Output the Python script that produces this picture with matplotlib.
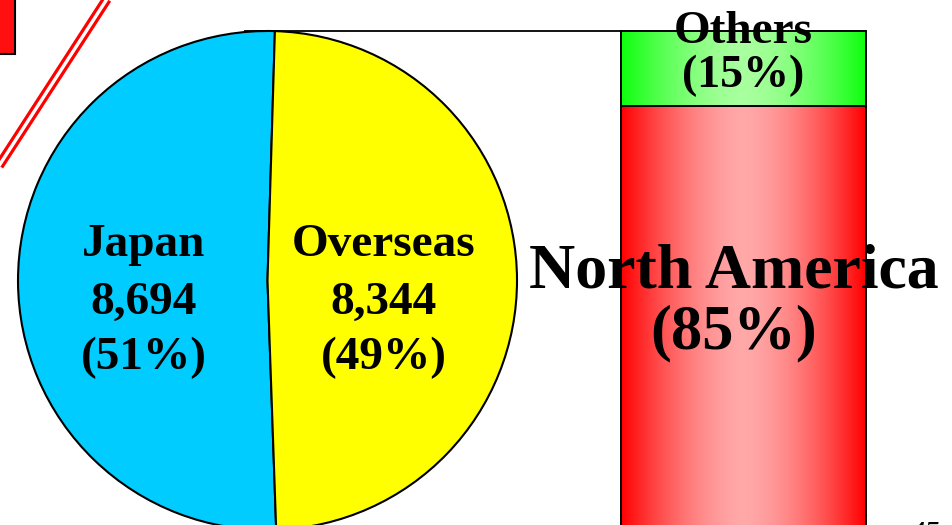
import numpy as np
import matplotlib.pyplot as plt
from matplotlib.patches import Rectangle

# sales split (units), and overseas breakdown (%)
regions = ["Japan", "Overseas"]
sales = [8694, 8344]
markets = ["North America", "Others"]
market_share = [85, 15]

W, H = 952, 525
plt.rcParams['font.family'] = ['Liberation Serif', 'DejaVu Serif']

fig = plt.figure(figsize=(W / 100, H / 100), dpi=100)
ax = fig.add_axes([0, 0, 1, 1])

def py(y):
    # pixel row (from top) -> data y
    return H - y

# ---- pie ----
cx, cy, r = 267.5, py(280.5), 249.5
wedges, _ = ax.pie(sales, colors=["#00CCFF", "#FFFF00"], startangle=88.3,
                   counterclock=True, center=(cx, cy), radius=r, frame=True,
                   wedgeprops=dict(edgecolor="black", linewidth=1.5))

pct = [round(100 * v / sum(sales)) for v in sales]
label_x = [143.5, 383.5]
for name, v, p, x in zip(regions, sales, pct, label_x):
    for txt, yb in zip([name, f"{v:,}", f"({p}%)"], [256, 314, 369]):
        ax.text(x, py(yb), txt, ha="center", va="baseline", fontsize=34,
                fontweight="bold", zorder=5)

# ---- stacked bar with gradient ----
bar_x, bar_w = 743.5, 245
top, bottom = py(31), py(528)
scale = (top - bottom) / sum(market_share)
heights = [s * scale for s in market_share]
bottoms = [bottom, bottom + heights[0]]
bars = ax.bar([bar_x, bar_x], heights, width=bar_w, bottom=bottoms,
              facecolor="none", edgecolor="black", linewidth=1.4, zorder=3)

t = np.linspace(-1, 1, 300)
w = 1 - np.abs(t) ** 1.6
edge_cols = [np.array([1.0, 0.0, 0.0]), np.array([0.05, 1.0, 0.05])]
mid_cols = [np.array([1.0, 0.66, 0.66]), np.array([0.66, 1.0, 0.62])]
for b, ec, mc in zip(bars, edge_cols, mid_cols):
    grad = ec[None, :] + (mc - ec)[None, :] * w[:, None]
    x0, y0 = b.get_x(), b.get_y()
    im = ax.imshow(grad[None, :, :], extent=[x0, x0 + b.get_width(), y0, y0 + b.get_height()],
                   aspect="auto", zorder=2, interpolation="bilinear")
    im.set_clip_path(b)

# connector from pie top to bar top
ax.plot([245, bar_x - bar_w / 2], [top, top], color="black", lw=1.3, zorder=4)

# bar labels
ax.text(734, py(288), markets[0], ha="center", va="baseline", fontsize=46,
        fontweight="bold", zorder=6)
ax.text(734, py(348), f"({market_share[0]}%)", ha="center", va="baseline",
        fontsize=45, fontweight="bold", zorder=6)
ax.text(743, py(43), markets[1], ha="center", va="baseline", fontsize=34,
        fontweight="bold", zorder=6)
ax.text(743, py(87), f"({market_share[1]}%)", ha="center", va="baseline",
        fontsize=33, fontweight="bold", zorder=6)

# ---- decorations at top-left ----
tl = Rectangle((-6, py(54)), 21, 60, facecolor="#FF1010", edgecolor="black",
               linewidth=1.5, zorder=3)
ax.add_patch(tl)
ax.plot([107, -5], [py(-1), py(172)], color="red", lw=7.0, solid_capstyle="butt", zorder=3)
ax.plot([107, -5], [py(-1), py(172)], color="white", lw=2.4, solid_capstyle="butt", zorder=3)

# page number (cut off at bottom)
ax.text(910, py(543), "45", fontsize=22, fontstyle="italic", ha="left",
        va="baseline", zorder=6)

ax.set_xlim(0, W)
ax.set_ylim(0, H)
ax.set_aspect("auto")
ax.axis("off")

fig.savefig("out.png", dpi=100)
